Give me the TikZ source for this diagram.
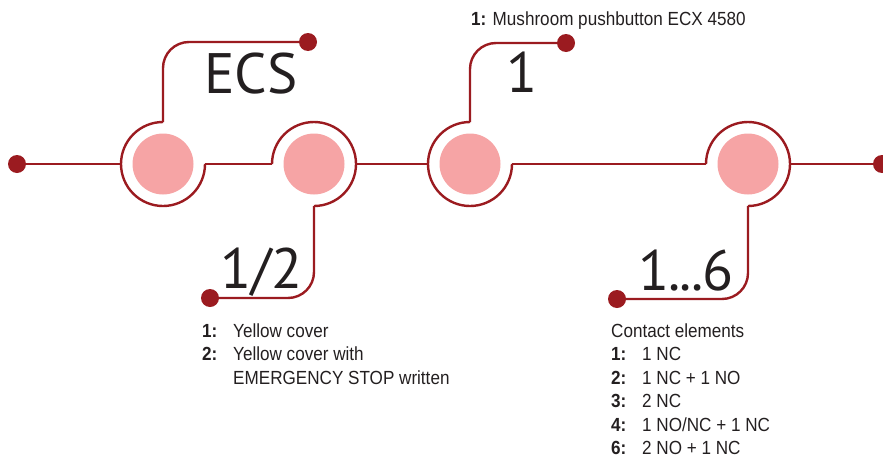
\documentclass[tikz,border=0pt]{standalone}
\usepackage{fontspec}
\setmainfont{Liberation Sans}
\newfontfamily\bigfont{PT Sans}
\newfontfamily\condfont[FakeStretch=0.9]{Liberation Sans}
\usetikzlibrary{calc}
\definecolor{wire}{RGB}{155,27,32}
\definecolor{disc}{RGB}{246,164,165}
\definecolor{ink}{RGB}{35,31,32}

\begin{document}
\begin{tikzpicture}[x=1pt,y=1pt,
  wireline/.style={draw=wire,line width=2.4pt},
  pad/.style={circle,fill=disc,minimum size=61pt,inner sep=0pt,outer sep=0pt},
  ring/.style={circle,minimum size=84pt,inner sep=0pt,outer sep=0pt},
  tip/.style={circle,fill=wire,minimum size=18pt,inner sep=0pt,outer sep=0pt},
  biglabel/.style={anchor=base west,inner sep=0pt,text=ink,font=\bigfont\fontsize{57}{57}\selectfont},
  note/.style={anchor=base west,inner sep=0pt,text=ink,font=\condfont\fontsize{19}{23.5}\selectfont}]

\useasboundingbox (0,0) rectangle (883,-463);

% end points of the wires
\node[tip] (d0) at (17,-164) {};
\node[tip] (d5) at (882,-164) {};
\node[tip] (d1) at (308,-42) {};
\node[tip] (d3) at (566,-43) {};
\node[tip] (d2) at (210,-298) {};
\node[tip] (d4) at (617,-299) {};

% the four buttons
\foreach \n/\x in {1/163,2/314,3/470,4/748}{
  \node[pad] (p\n) at (\x,-164) {};
  \node[ring] (r\n) at (\x,-164) {};
}

% rings around the buttons
\draw[wireline] (r1.north) arc[start angle=90,end angle=360,radius=42pt];
\draw[wireline] (r2.west) arc[start angle=180,end angle=-90,radius=42pt];
\draw[wireline] (r3.north) arc[start angle=90,end angle=360,radius=42pt];
\draw[wireline] (r4.west) arc[start angle=180,end angle=-90,radius=42pt];

% main wire
\draw[wireline] (d0.center) -- (r1.west) (r1.east) -- (r2.west)
  (r2.east) -- (r3.west) (r3.east) -- (r4.west) (r4.east) -- (d5.center);

% leads to the labels
\draw[wireline,rounded corners=26pt] (r1.north) |- (d1.center);
\draw[wireline,rounded corners=26pt] (r3.north) |- (d3.center);
\draw[wireline,rounded corners=26pt] (r2.south) |- (d2.center);
\draw[wireline,rounded corners=26pt] (r4.south) |- (d4.center);

% large labels
\node[biglabel] (lecs) at (204,-93) {ECS};
\node[biglabel] (lone) at (506,-92) {1};
\node[biglabel] (lhalf) at (220,-288) {1/2};
\node[biglabel] (lsix) at (638,-290) {1\kern-0.8pt.\kern-0.8pt.\kern-0.8pt.\kern-0.8pt6};

% descriptions
\node[note] (ntop) at (471,-25) {\textbf{1:} Mushroom pushbutton ECX 4580};
\node[note] (nleft) at (202,-337) {\begin{tabular}[t]{@{}p{31pt}@{}l@{}}
  \textbf{1:} & Yellow cover\\
  \textbf{2:} & Yellow cover with\\
  & EMERGENCY STOP written
\end{tabular}};
\node[note] (nright) at (611,-337) {\begin{tabular}[t]{@{}p{31pt}@{}l@{}}
  \multicolumn{2}{@{}l@{}}{Contact elements}\\
  \textbf{1:} & 1 NC\\
  \textbf{2:} & 1 NC + 1 NO\\
  \textbf{3:} & 2 NC\\
  \textbf{4:} & 1 NO/NC + 1 NC\\
  \textbf{6:} & 2 NO + 1 NC
\end{tabular}};
\end{tikzpicture}
\end{document}
